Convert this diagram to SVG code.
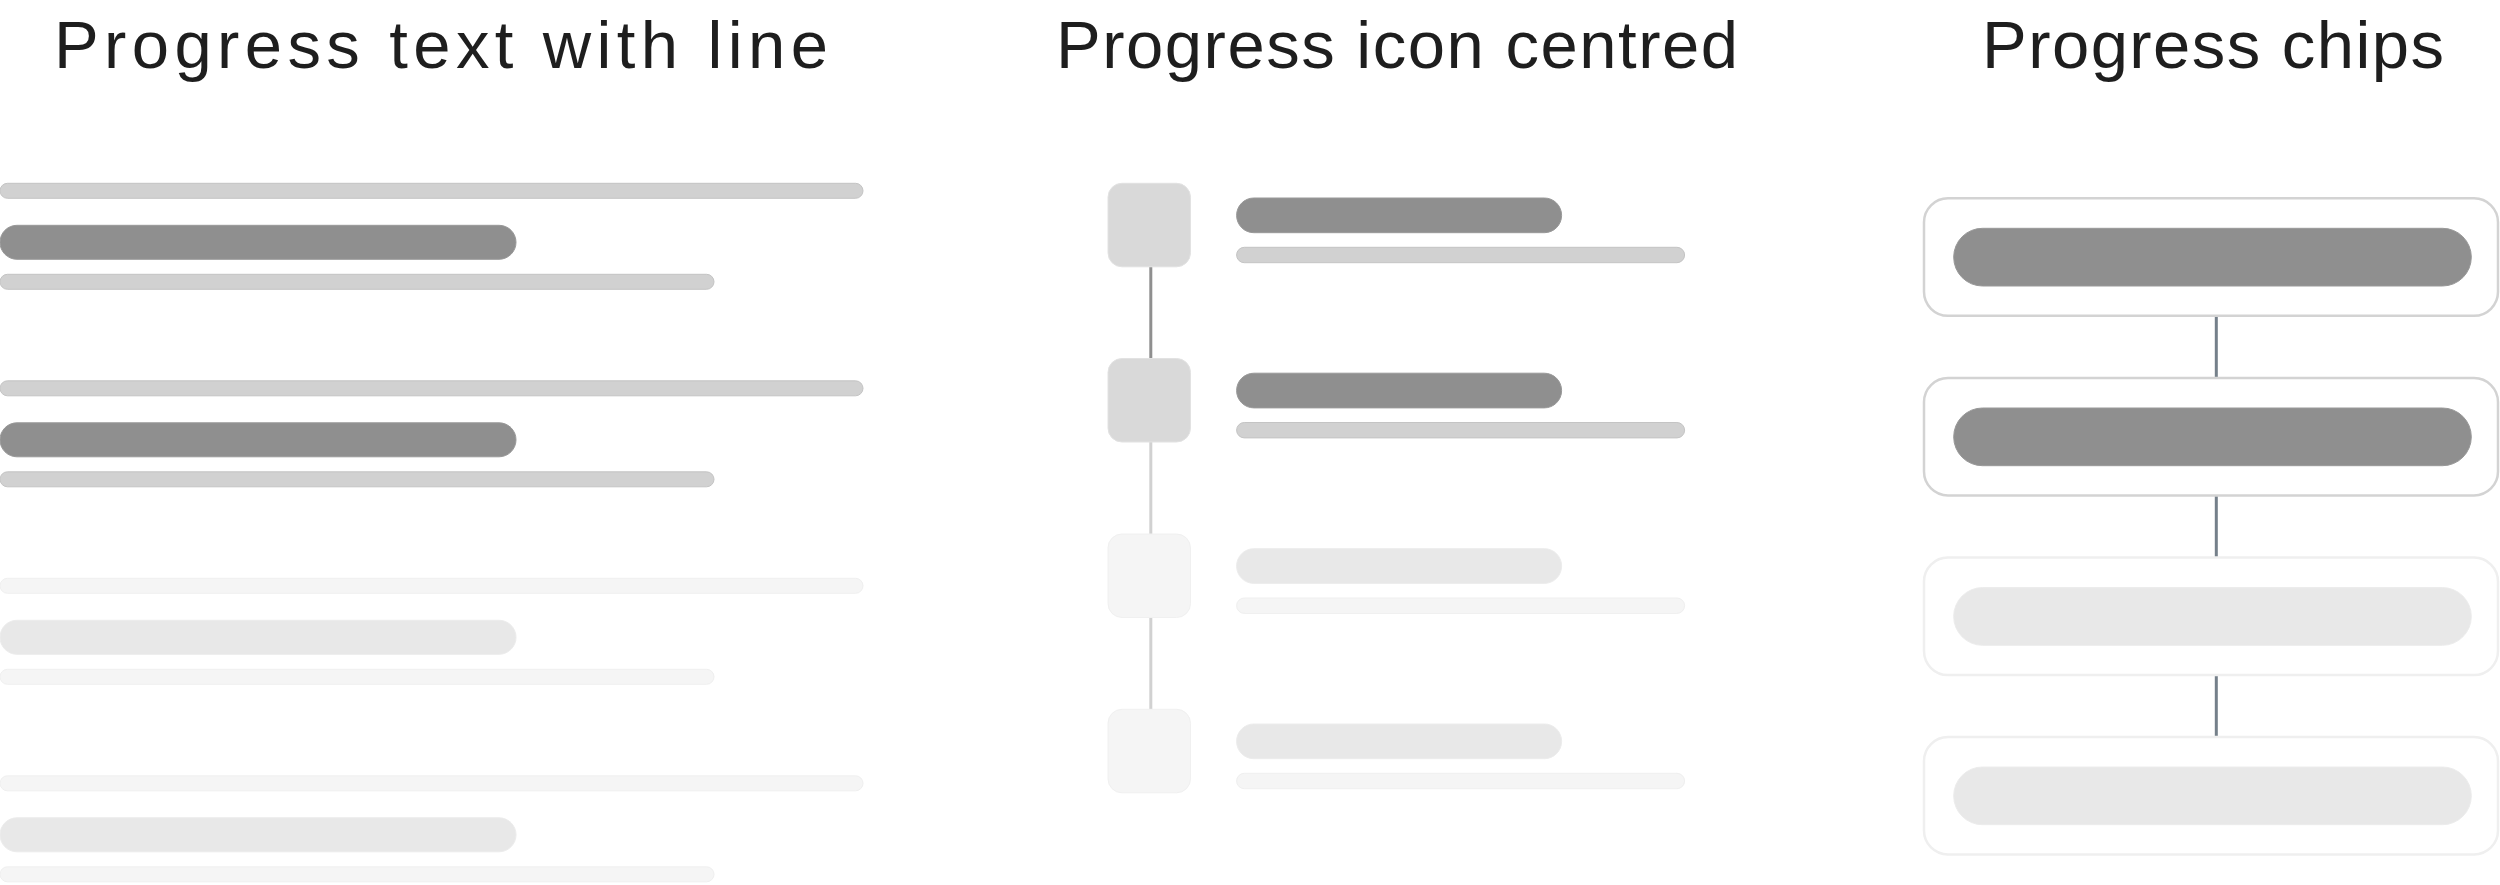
<svg xmlns="http://www.w3.org/2000/svg" width="2500" height="885" viewBox="0 0 2500 885">
<style>
.title{font-family:"Liberation Sans","DejaVu Sans",sans-serif;font-size:67px;fill:#1e1e1e}
.bar-a{fill:#d1d1d1;stroke:#c4c4c4;stroke-width:1}
.pill-a{fill:#8f8f8f;stroke:#999;stroke-width:1}
.bar-b{fill:#f5f5f5;stroke:#efefef;stroke-width:1}
.pill-b{fill:#e8e8e8;stroke:#ececec;stroke-width:1}
.sq-a{fill:#d9d9d9;stroke:#e2e2e2;stroke-width:1}
.sq-b{fill:#f5f5f5;stroke:#f0f0f0;stroke-width:1}
.chip-a{fill:#fff;stroke:#d3d3d3;stroke-width:2.5}
.chip-b{fill:#fff;stroke:#efefef;stroke-width:2.5}
.c-dark{stroke:#8f8f8f;stroke-width:3}
.c-light{stroke:#d1d1d1;stroke-width:3}
.c-slate{stroke:#75808a;stroke-width:3}
</style>
<rect width="2500" height="885" fill="#ffffff"/>
<g id="titles">
<text class="title" x="54" y="68" textLength="774" lengthAdjust="spacing">Progress text with line</text>
<text class="title" x="1056" y="68" textLength="682" lengthAdjust="spacing">Progress icon centred</text>
<text class="title" x="1982" y="68" textLength="462" lengthAdjust="spacing">Progress chips</text>
</g>
<g id="connectors">
<line class="c-dark" x1="1150.8" y1="266.8" x2="1150.8" y2="358.5"/>
<line class="c-light" x1="1150.8" y1="442" x2="1150.8" y2="534"/>
<line class="c-light" x1="1150.8" y1="617.5" x2="1150.8" y2="709.3"/>
<line class="c-slate" x1="2216.3" y1="315.8" x2="2216.3" y2="378"/>
<line class="c-slate" x1="2216.3" y1="495.5" x2="2216.3" y2="557.6"/>
<line class="c-slate" x1="2216.3" y1="675.1" x2="2216.3" y2="737"/>
</g>
<g id="text-line-1">
<rect class="bar-a" x="0" y="183.3" width="863" height="15" rx="7.5"/>
<rect class="pill-a" x="0" y="225.3" width="516" height="34" rx="17"/>
<rect class="bar-a" x="0" y="274.3" width="714" height="15" rx="7.5"/>
</g>
<g id="text-line-2">
<rect class="bar-a" x="0" y="380.8" width="863" height="15" rx="7.5"/>
<rect class="pill-a" x="0" y="422.8" width="516" height="34" rx="17"/>
<rect class="bar-a" x="0" y="471.8" width="714" height="15" rx="7.5"/>
</g>
<g id="text-line-3">
<rect class="bar-b" x="0" y="578.3" width="863" height="15" rx="7.5"/>
<rect class="pill-b" x="0" y="620.3" width="516" height="34" rx="17"/>
<rect class="bar-b" x="0" y="669.3" width="714" height="15" rx="7.5"/>
</g>
<g id="text-line-4">
<rect class="bar-b" x="0" y="775.8" width="863" height="15" rx="7.5"/>
<rect class="pill-b" x="0" y="817.8" width="516" height="34" rx="17"/>
<rect class="bar-b" x="0" y="866.8" width="714" height="15" rx="7.5"/>
</g>
<g id="icon-row-1">
<rect class="sq-a" x="1108" y="183.3" width="82.5" height="83.5" rx="14"/>
<rect class="pill-a" x="1236.6" y="198" width="325" height="34.7" rx="17.3"/>
<rect class="bar-a" x="1236.6" y="247.3" width="448" height="15.4" rx="7.7"/>
</g>
<g id="icon-row-2">
<rect class="sq-a" x="1108" y="358.5" width="82.5" height="83.5" rx="14"/>
<rect class="pill-a" x="1236.6" y="373.2" width="325" height="34.7" rx="17.3"/>
<rect class="bar-a" x="1236.6" y="422.5" width="448" height="15.4" rx="7.7"/>
</g>
<g id="icon-row-3">
<rect class="sq-b" x="1108" y="534" width="82.5" height="83.5" rx="14"/>
<rect class="pill-b" x="1236.6" y="548.7" width="325" height="34.7" rx="17.3"/>
<rect class="bar-b" x="1236.6" y="598" width="448" height="15.4" rx="7.7"/>
</g>
<g id="icon-row-4">
<rect class="sq-b" x="1108" y="709.3" width="82.5" height="83.5" rx="14"/>
<rect class="pill-b" x="1236.6" y="724" width="325" height="34.7" rx="17.3"/>
<rect class="bar-b" x="1236.6" y="773.3" width="448" height="15.4" rx="7.7"/>
</g>
<g id="chip-1">
<rect class="chip-a" x="1924" y="198.3" width="574" height="117.5" rx="24"/>
<rect class="pill-a" x="1953.7" y="228.3" width="517.6" height="57.7" rx="28.8"/>
</g>
<g id="chip-2">
<rect class="chip-a" x="1924" y="378" width="574" height="117.5" rx="24"/>
<rect class="pill-a" x="1953.7" y="408" width="517.6" height="57.7" rx="28.8"/>
</g>
<g id="chip-3">
<rect class="chip-b" x="1924" y="557.6" width="574" height="117.5" rx="24"/>
<rect class="pill-b" x="1953.7" y="587.6" width="517.6" height="57.7" rx="28.8"/>
</g>
<g id="chip-4">
<rect class="chip-b" x="1924" y="737" width="574" height="117.5" rx="24"/>
<rect class="pill-b" x="1953.7" y="767" width="517.6" height="57.7" rx="28.8"/>
</g>
</svg>
